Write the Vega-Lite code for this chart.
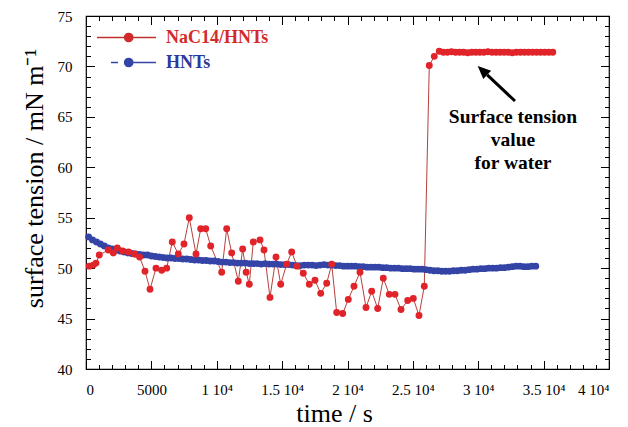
{
  "$schema": "https://vega.github.io/schema/vega-lite/v6.json",
  "width": 523,
  "height": 353,
  "autosize": {"type": "none"},
  "padding": {"left": 86, "top": 16, "right": 19, "bottom": 58},
  "background": "white",
  "config": {
    "view": {"stroke": "black", "strokeWidth": 1.2},
    "axis": {
      "labelFont": "Liberation Serif", "labelFontSize": 15, "labelColor": "black",
      "titleFont": "Liberation Serif", "titleFontSize": 26, "titleFontWeight": "normal", "titleColor": "black",
      "tickColor": "black", "tickWidth": 1, "domain": false, "grid": false
    }
  },
  "datasets": {
    "surface": [
      {"series": "HNTs", "time": 200, "tension": 53.1}, {"series": "HNTs", "time": 500, "tension": 52.8}, {"series": "HNTs", "time": 800, "tension": 52.6}, {"series": "HNTs", "time": 1100, "tension": 52.4}, {"series": "HNTs", "time": 1400, "tension": 52.2}, {"series": "HNTs", "time": 1700, "tension": 52.0}, {"series": "HNTs", "time": 2000, "tension": 51.9}, {"series": "HNTs", "time": 2300, "tension": 51.8}, {"series": "HNTs", "time": 2600, "tension": 51.7}, {"series": "HNTs", "time": 2900, "tension": 51.6},
      {"series": "HNTs", "time": 3200, "tension": 51.5}, {"series": "HNTs", "time": 3500, "tension": 51.45}, {"series": "HNTs", "time": 3800, "tension": 51.4}, {"series": "HNTs", "time": 4100, "tension": 51.35}, {"series": "HNTs", "time": 4400, "tension": 51.3}, {"series": "HNTs", "time": 4700, "tension": 51.3}, {"series": "HNTs", "time": 5000, "tension": 51.2}, {"series": "HNTs", "time": 5300, "tension": 51.15}, {"series": "HNTs", "time": 5600, "tension": 51.1}, {"series": "HNTs", "time": 5900, "tension": 51.05},
      {"series": "HNTs", "time": 6200, "tension": 51.0}, {"series": "HNTs", "time": 6500, "tension": 51.0}, {"series": "HNTs", "time": 6800, "tension": 50.95}, {"series": "HNTs", "time": 7100, "tension": 50.95}, {"series": "HNTs", "time": 7400, "tension": 50.9}, {"series": "HNTs", "time": 7700, "tension": 50.9}, {"series": "HNTs", "time": 8000, "tension": 50.85}, {"series": "HNTs", "time": 8300, "tension": 50.8}, {"series": "HNTs", "time": 8600, "tension": 50.8}, {"series": "HNTs", "time": 8900, "tension": 50.75},
      {"series": "HNTs", "time": 9200, "tension": 50.75}, {"series": "HNTs", "time": 9500, "tension": 50.7}, {"series": "HNTs", "time": 9800, "tension": 50.7}, {"series": "HNTs", "time": 10100, "tension": 50.65}, {"series": "HNTs", "time": 10400, "tension": 50.6}, {"series": "HNTs", "time": 10700, "tension": 50.6}, {"series": "HNTs", "time": 11000, "tension": 50.55}, {"series": "HNTs", "time": 11300, "tension": 50.55}, {"series": "HNTs", "time": 11600, "tension": 50.5}, {"series": "HNTs", "time": 11900, "tension": 50.5},
      {"series": "HNTs", "time": 12200, "tension": 50.5}, {"series": "HNTs", "time": 12500, "tension": 50.45}, {"series": "HNTs", "time": 12800, "tension": 50.45}, {"series": "HNTs", "time": 13100, "tension": 50.45}, {"series": "HNTs", "time": 13400, "tension": 50.4}, {"series": "HNTs", "time": 13700, "tension": 50.45}, {"series": "HNTs", "time": 14000, "tension": 50.4}, {"series": "HNTs", "time": 14300, "tension": 50.4}, {"series": "HNTs", "time": 14600, "tension": 50.4}, {"series": "HNTs", "time": 14900, "tension": 50.35},
      {"series": "HNTs", "time": 15200, "tension": 50.35}, {"series": "HNTs", "time": 15500, "tension": 50.35}, {"series": "HNTs", "time": 15800, "tension": 50.3}, {"series": "HNTs", "time": 16100, "tension": 50.25}, {"series": "HNTs", "time": 16400, "tension": 50.25}, {"series": "HNTs", "time": 16700, "tension": 50.3}, {"series": "HNTs", "time": 17000, "tension": 50.3}, {"series": "HNTs", "time": 17300, "tension": 50.3}, {"series": "HNTs", "time": 17600, "tension": 50.25}, {"series": "HNTs", "time": 17900, "tension": 50.3},
      {"series": "HNTs", "time": 18200, "tension": 50.35}, {"series": "HNTs", "time": 18500, "tension": 50.3}, {"series": "HNTs", "time": 18800, "tension": 50.3}, {"series": "HNTs", "time": 19100, "tension": 50.25}, {"series": "HNTs", "time": 19400, "tension": 50.25}, {"series": "HNTs", "time": 19700, "tension": 50.2}, {"series": "HNTs", "time": 20000, "tension": 50.2}, {"series": "HNTs", "time": 20300, "tension": 50.2}, {"series": "HNTs", "time": 20600, "tension": 50.2}, {"series": "HNTs", "time": 20900, "tension": 50.15},
      {"series": "HNTs", "time": 21200, "tension": 50.15}, {"series": "HNTs", "time": 21500, "tension": 50.1}, {"series": "HNTs", "time": 21800, "tension": 50.1}, {"series": "HNTs", "time": 22100, "tension": 50.1}, {"series": "HNTs", "time": 22400, "tension": 50.1}, {"series": "HNTs", "time": 22700, "tension": 50.05}, {"series": "HNTs", "time": 23000, "tension": 50.05}, {"series": "HNTs", "time": 23300, "tension": 50.0}, {"series": "HNTs", "time": 23600, "tension": 50.0}, {"series": "HNTs", "time": 23900, "tension": 50.0},
      {"series": "HNTs", "time": 24200, "tension": 49.95}, {"series": "HNTs", "time": 24500, "tension": 49.95}, {"series": "HNTs", "time": 24800, "tension": 49.95}, {"series": "HNTs", "time": 25100, "tension": 49.9}, {"series": "HNTs", "time": 25400, "tension": 49.9}, {"series": "HNTs", "time": 25700, "tension": 49.9}, {"series": "HNTs", "time": 26000, "tension": 49.85}, {"series": "HNTs", "time": 26300, "tension": 49.8}, {"series": "HNTs", "time": 26600, "tension": 49.75}, {"series": "HNTs", "time": 26900, "tension": 49.75},
      {"series": "HNTs", "time": 27200, "tension": 49.7}, {"series": "HNTs", "time": 27500, "tension": 49.7}, {"series": "HNTs", "time": 27800, "tension": 49.7}, {"series": "HNTs", "time": 28100, "tension": 49.75}, {"series": "HNTs", "time": 28400, "tension": 49.75}, {"series": "HNTs", "time": 28700, "tension": 49.8}, {"series": "HNTs", "time": 29000, "tension": 49.8}, {"series": "HNTs", "time": 29300, "tension": 49.85}, {"series": "HNTs", "time": 29600, "tension": 49.9}, {"series": "HNTs", "time": 29900, "tension": 49.9},
      {"series": "HNTs", "time": 30200, "tension": 49.95}, {"series": "HNTs", "time": 30500, "tension": 49.95}, {"series": "HNTs", "time": 30800, "tension": 50.0}, {"series": "HNTs", "time": 31100, "tension": 50.0}, {"series": "HNTs", "time": 31400, "tension": 50.0}, {"series": "HNTs", "time": 31700, "tension": 50.05}, {"series": "HNTs", "time": 32000, "tension": 50.05}, {"series": "HNTs", "time": 32300, "tension": 50.1}, {"series": "HNTs", "time": 32600, "tension": 50.15}, {"series": "HNTs", "time": 32900, "tension": 50.2},
      {"series": "HNTs", "time": 33200, "tension": 50.2}, {"series": "HNTs", "time": 33500, "tension": 50.15}, {"series": "HNTs", "time": 33800, "tension": 50.15}, {"series": "HNTs", "time": 34100, "tension": 50.2}, {"series": "HNTs", "time": 34400, "tension": 50.2},
      {"series": "NaC14/HNTs", "time": 252, "tension": 50.2}, {"series": "NaC14/HNTs", "time": 558, "tension": 50.3}, {"series": "NaC14/HNTs", "time": 765, "tension": 50.5}, {"series": "NaC14/HNTs", "time": 1017, "tension": 51.3}, {"series": "NaC14/HNTs", "time": 1705, "tension": 51.8}, {"series": "NaC14/HNTs", "time": 2088, "tension": 51.5}, {"series": "NaC14/HNTs", "time": 2394, "tension": 52.0}, {"series": "NaC14/HNTs", "time": 2800, "tension": 51.7}, {"series": "NaC14/HNTs", "time": 3250, "tension": 51.6}, {"series": "NaC14/HNTs", "time": 3700, "tension": 51.4},
      {"series": "NaC14/HNTs", "time": 4100, "tension": 51.1}, {"series": "NaC14/HNTs", "time": 4512, "tension": 49.7}, {"series": "NaC14/HNTs", "time": 4895, "tension": 47.9}, {"series": "NaC14/HNTs", "time": 5354, "tension": 50.0}, {"series": "NaC14/HNTs", "time": 5790, "tension": 49.8}, {"series": "NaC14/HNTs", "time": 6172, "tension": 50.0}, {"series": "NaC14/HNTs", "time": 6600, "tension": 52.6}, {"series": "NaC14/HNTs", "time": 7059, "tension": 51.4}, {"series": "NaC14/HNTs", "time": 7495, "tension": 52.4}, {"series": "NaC14/HNTs", "time": 7900, "tension": 55.0},
      {"series": "NaC14/HNTs", "time": 8413, "tension": 51.4}, {"series": "NaC14/HNTs", "time": 8773, "tension": 53.9}, {"series": "NaC14/HNTs", "time": 9155, "tension": 53.9}, {"series": "NaC14/HNTs", "time": 9537, "tension": 52.2}, {"series": "NaC14/HNTs", "time": 10378, "tension": 49.6}, {"series": "NaC14/HNTs", "time": 10760, "tension": 53.9}, {"series": "NaC14/HNTs", "time": 11143, "tension": 51.5}, {"series": "NaC14/HNTs", "time": 11648, "tension": 48.7}, {"series": "NaC14/HNTs", "time": 11984, "tension": 51.9}, {"series": "NaC14/HNTs", "time": 12250, "tension": 49.6},
      {"series": "NaC14/HNTs", "time": 12490, "tension": 48.4}, {"series": "NaC14/HNTs", "time": 12796, "tension": 52.6}, {"series": "NaC14/HNTs", "time": 13308, "tension": 52.8}, {"series": "NaC14/HNTs", "time": 13614, "tension": 51.8}, {"series": "NaC14/HNTs", "time": 14072, "tension": 47.1}, {"series": "NaC14/HNTs", "time": 14531, "tension": 51.1}, {"series": "NaC14/HNTs", "time": 14891, "tension": 48.4}, {"series": "NaC14/HNTs", "time": 15350, "tension": 50.4}, {"series": "NaC14/HNTs", "time": 15732, "tension": 51.6}, {"series": "NaC14/HNTs", "time": 16140, "tension": 50.2},
      {"series": "NaC14/HNTs", "time": 16620, "tension": 49.5}, {"series": "NaC14/HNTs", "time": 17078, "tension": 48.4}, {"series": "NaC14/HNTs", "time": 17514, "tension": 48.8}, {"series": "NaC14/HNTs", "time": 17950, "tension": 47.5}, {"series": "NaC14/HNTs", "time": 18409, "tension": 48.5}, {"series": "NaC14/HNTs", "time": 18791, "tension": 50.4}, {"series": "NaC14/HNTs", "time": 19174, "tension": 45.6}, {"series": "NaC14/HNTs", "time": 19633, "tension": 45.5}, {"series": "NaC14/HNTs", "time": 20061, "tension": 46.9}, {"series": "NaC14/HNTs", "time": 20497, "tension": 48.2},
      {"series": "NaC14/HNTs", "time": 20956, "tension": 49.6}, {"series": "NaC14/HNTs", "time": 21415, "tension": 46.1}, {"series": "NaC14/HNTs", "time": 21850, "tension": 47.7}, {"series": "NaC14/HNTs", "time": 22309, "tension": 46.0}, {"series": "NaC14/HNTs", "time": 22737, "tension": 49.0}, {"series": "NaC14/HNTs", "time": 23196, "tension": 47.4}, {"series": "NaC14/HNTs", "time": 23632, "tension": 47.4}, {"series": "NaC14/HNTs", "time": 24091, "tension": 45.9}, {"series": "NaC14/HNTs", "time": 24604, "tension": 46.8}, {"series": "NaC14/HNTs", "time": 25032, "tension": 47.0},
      {"series": "NaC14/HNTs", "time": 25468, "tension": 45.3}, {"series": "NaC14/HNTs", "time": 25873, "tension": 48.2}, {"series": "NaC14/HNTs", "time": 26255, "tension": 70.1}, {"series": "NaC14/HNTs", "time": 26637, "tension": 71.0}, {"series": "NaC14/HNTs", "time": 27019, "tension": 71.5}, {"series": "NaC14/HNTs", "time": 27330, "tension": 71.4}, {"series": "NaC14/HNTs", "time": 27640, "tension": 71.4}, {"series": "NaC14/HNTs", "time": 27950, "tension": 71.45}, {"series": "NaC14/HNTs", "time": 28260, "tension": 71.4}, {"series": "NaC14/HNTs", "time": 28570, "tension": 71.4},
      {"series": "NaC14/HNTs", "time": 28880, "tension": 71.4}, {"series": "NaC14/HNTs", "time": 29190, "tension": 71.35}, {"series": "NaC14/HNTs", "time": 29500, "tension": 71.4}, {"series": "NaC14/HNTs", "time": 29810, "tension": 71.4}, {"series": "NaC14/HNTs", "time": 30120, "tension": 71.4}, {"series": "NaC14/HNTs", "time": 30430, "tension": 71.4}, {"series": "NaC14/HNTs", "time": 30740, "tension": 71.45}, {"series": "NaC14/HNTs", "time": 31050, "tension": 71.4}, {"series": "NaC14/HNTs", "time": 31360, "tension": 71.4}, {"series": "NaC14/HNTs", "time": 31670, "tension": 71.4},
      {"series": "NaC14/HNTs", "time": 31980, "tension": 71.4}, {"series": "NaC14/HNTs", "time": 32290, "tension": 71.4}, {"series": "NaC14/HNTs", "time": 32600, "tension": 71.35}, {"series": "NaC14/HNTs", "time": 32910, "tension": 71.4}, {"series": "NaC14/HNTs", "time": 33220, "tension": 71.4}, {"series": "NaC14/HNTs", "time": 33530, "tension": 71.4}, {"series": "NaC14/HNTs", "time": 33840, "tension": 71.4}, {"series": "NaC14/HNTs", "time": 34150, "tension": 71.4}, {"series": "NaC14/HNTs", "time": 34460, "tension": 71.4}, {"series": "NaC14/HNTs", "time": 34770, "tension": 71.4},
      {"series": "NaC14/HNTs", "time": 35080, "tension": 71.4}, {"series": "NaC14/HNTs", "time": 35390, "tension": 71.4}, {"series": "NaC14/HNTs", "time": 35700, "tension": 71.4}
    ]
  },
  "resolve": {"axis": {"x": "independent", "y": "independent"}},
  "layer": [
    {
      "data": {"name": "surface"},
      "transform": [{"filter": "datum.series === 'NaC14/HNTs'"}],
      "mark": {"type": "line", "color": "#b8403c", "strokeWidth": 1, "interpolate": "linear"},
      "encoding": {
        "x": {"field": "time", "type": "quantitative", "scale": {"domain": [0, 40000], "nice": false, "zero": false},
          "axis": {"orient": "bottom", "values": [0, 5000, 10000, 15000, 20000, 25000, 30000, 35000, 40000], "tickSize": -8.5, "labelPadding": 28.5, "labelBaseline": "middle",
            "labelExpr": "datum.value == 0 ? '0' : datum.value == 5000 ? '5000' : format(datum.value / 10000, '~g') + ' 10⁴'",
            "title": "time / s", "titleX": 248, "titleY": 52, "titleBaseline": "alphabetic", "titleAnchor": "middle"}},
        "y": {"field": "tension", "type": "quantitative", "scale": {"domain": [40, 75], "nice": false, "zero": false},
          "axis": {"orient": "left", "values": [40, 45, 50, 55, 60, 65, 70, 75], "tickSize": -8.5, "labelPadding": 22.5,
            "title": "surface tension / mN m⁻¹", "titleX": -44, "titleY": 162, "titleBaseline": "alphabetic", "titleAngle": -90, "titleAnchor": "middle"}},
        "order": {"field": "time", "type": "quantitative"}
      }
    },
    {
      "data": {"name": "surface"},
      "transform": [{"filter": "datum.series === 'HNTs'"}],
      "mark": {"type": "line", "color": "#3444a6", "strokeWidth": 1},
      "encoding": {
        "x": {"field": "time", "type": "quantitative",
          "axis": {"orient": "bottom", "values": [1000, 2000, 3000, 4000, 6000, 7000, 8000, 9000, 11000, 12000, 13000, 14000, 16000, 17000, 18000, 19000, 21000, 22000, 23000, 24000, 26000, 27000, 28000, 29000, 31000, 32000, 33000, 34000, 36000, 37000, 38000, 39000], "tickSize": -4.5, "labels": false, "title": null}},
        "y": {"field": "tension", "type": "quantitative",
          "axis": {"orient": "left", "values": [41, 42, 43, 44, 46, 47, 48, 49, 51, 52, 53, 54, 56, 57, 58, 59, 61, 62, 63, 64, 66, 67, 68, 69, 71, 72, 73, 74], "tickSize": -4.5, "labels": false, "title": null}},
        "order": {"field": "time", "type": "quantitative"}
      }
    },
    {
      "data": {"name": "surface"},
      "mark": {"type": "point", "filled": true, "size": 48, "opacity": 1},
      "encoding": {
        "x": {"field": "time", "type": "quantitative",
          "axis": {"orient": "top", "values": [0, 5000, 10000, 15000, 20000, 25000, 30000, 35000, 40000], "tickSize": -8.5, "labels": false, "title": null}},
        "y": {"field": "tension", "type": "quantitative",
          "axis": {"orient": "right", "values": [40, 45, 50, 55, 60, 65, 70, 75], "tickSize": -8.5, "labels": false, "title": null}},
        "color": {"field": "series", "type": "nominal",
          "scale": {"domain": ["NaC14/HNTs", "HNTs"], "range": ["#e0242a", "#3444a6"]},
          "legend": {
            "orient": "none", "legendX": 29.5, "legendY": 10.5, "title": null, "padding": 0,
            "symbolSize": 400, "symbolStrokeWidth": 1.3, "labelOffset": 28.5, "rowPadding": 5,
            "labelFont": "Liberation Serif", "labelFontSize": 18, "labelFontWeight": "bold",
            "symbolType": {"expr": "datum.value === 'HNTs' ? 'M-1.55,0H-0.85M0.64,0H2.95M-0.2,0A0.42,0.42 0 1,0 0.64,0A0.42,0.42 0 1,0 -0.2,0Z' : 'M-2.95,0H2.95M-0.2,0A0.42,0.42 0 1,0 0.64,0A0.42,0.42 0 1,0 -0.2,0Z'"},
            "symbolStrokeColor": {"expr": "datum.value === 'HNTs' ? '#3444a6' : '#c0302c'"},
            "labelColor": {"expr": "datum.value === 'HNTs' ? '#2b3a9a' : '#d42a2a'"}
          }},
        "order": {"field": "series", "type": "nominal", "sort": "ascending"}
      }
    },
    {
      "data": {"values": [{"label": "Surface tension\nvalue\nfor water", "time": 32658, "tension": 64.39}]},
      "mark": {"type": "text", "font": "Liberation Serif", "fontSize": 19.5, "fontWeight": "bold", "color": "black", "align": "center", "baseline": "alphabetic", "lineBreak": "\n", "lineHeight": 23},
      "encoding": {
        "x": {"field": "time", "type": "quantitative",
          "axis": {"orient": "top", "values": [1000, 2000, 3000, 4000, 6000, 7000, 8000, 9000, 11000, 12000, 13000, 14000, 16000, 17000, 18000, 19000, 21000, 22000, 23000, 24000, 26000, 27000, 28000, 29000, 31000, 32000, 33000, 34000, 36000, 37000, 38000, 39000], "tickSize": -4.5, "labels": false, "title": null}},
        "y": {"field": "tension", "type": "quantitative",
          "axis": {"orient": "right", "values": [41, 42, 43, 44, 46, 47, 48, 49, 51, 52, 53, 54, 56, 57, 58, 59, 61, 62, 63, 64, 66, 67, 68, 69, 71, 72, 73, 74], "tickSize": -4.5, "labels": false, "title": null}},
        "text": {"field": "label", "type": "nominal"}
      }
    },
    {
      "data": {"values": [{"time": 32811, "tension": 66.57, "time2": 30685, "tension2": 69.16}]},
      "mark": {"type": "rule", "color": "black", "strokeWidth": 3},
      "encoding": {
        "x": {"field": "time", "type": "quantitative", "axis": null},
        "y": {"field": "tension", "type": "quantitative", "axis": null},
        "x2": {"field": "time2"},
        "y2": {"field": "tension2"}
      }
    },
    {
      "data": {"values": [{"time": 29958, "tension": 70.04}]},
      "mark": {"type": "point", "filled": true, "color": "black", "opacity": 1, "shape": "M0,0L-0.62,1.4L0.62,1.4Z", "size": 346, "angle": 313},
      "encoding": {
        "x": {"field": "time", "type": "quantitative", "axis": null},
        "y": {"field": "tension", "type": "quantitative", "axis": null}
      }
    }
  ]
}
